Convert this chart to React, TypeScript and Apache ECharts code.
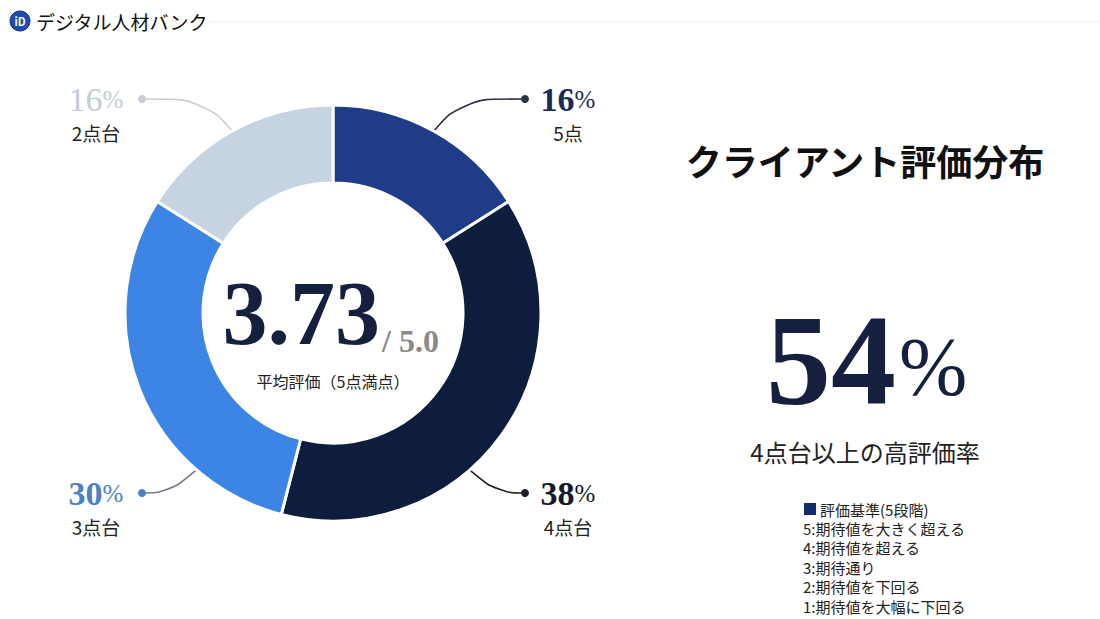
import React, { useEffect, useRef } from "react";
import * as echarts from "echarts";

const categories = ["5点", "4点台", "3点台", "2点台"];
const shares = [16, 38, 30, 16];
const sliceColors = ["#1f3c88", "#0e1c3d", "#3d85e4", "#c6d3e1"];
const pctColors = ["#1c2a57", "#131a2e", "#4b82c4", "#c4ccd8"];
const guideColors = ["#2a3248", "#1c1f2b", "#6f7b8d", "#c9ced6"];
const averageScore = "3.73";
const maxScore = "/ 5.0";
const averageCaption = "平均評価（5点満点）";
const chartTitle = "クライアント評価分布";
const highRatePct = "54";
const highRateCaption = "4点台以上の高評価率";
const criteriaHeader = "評価基準(5段階)";
const criteriaLines = [
  "5:期待値を大きく超える",
  "4:期待値を超える",
  "3:期待通り",
  "2:期待値を下回る",
  "1:期待値を大幅に下回る",
];
const brandName = "デジタル人材バンク";

const SANS = '"Noto Sans CJK JP", "Noto Sans", sans-serif';
const SERIF = '"Liberation Serif", "DejaVu Serif", serif';

// layout constants
const CX = 333;
const CY = 313;
const R_IN = 130;
const R_OUT = 208;
const anchorAngles = [29, 139, 221, 331];
const dotYTop = 99;
const dotYBottom = 493;
const dotXRight = 525;
const dotXLeft = 142;
const labelXRight = 568;
const labelXLeft = 96;

function guideGeom(i: number) {
  const right = i === 0 || i === 1;
  const top = i === 0 || i === 3;
  const a = (anchorAngles[i] * Math.PI) / 180;
  const ax = CX + R_OUT * Math.sin(a);
  const ay = CY - R_OUT * Math.cos(a);
  const dy = top ? dotYTop : dotYBottom;
  const dx = right ? dotXRight : dotXLeft;
  const ex = ax + (right ? 28 : -28);
  return { ax, ay, ex, dx, dy, lx: right ? labelXRight : labelXLeft };
}

export default function App() {
  const ref = useRef<HTMLDivElement>(null);
  useEffect(() => {
    document.body.style.margin = "0";
    const chart = echarts.init(ref.current!, null, { renderer: "svg" });
    const rich: any = {};
    categories.forEach((_, i) => {
      rich["pct" + i] = { fontFamily: SERIF, fontSize: 34, color: pctColors[i], lineHeight: 36, fontWeight: i === 3 ? "normal" : "bold" };
      rich["sign" + i] = { fontFamily: SERIF, fontSize: 25, color: pctColors[i], lineHeight: 36 };
    });
    rich.name = { fontFamily: SANS, fontSize: 19, color: "#222", lineHeight: 30 };

    const dots = categories.map((_, i) => {
      const g = guideGeom(i);
      return {
        type: "circle",
        shape: { cx: g.dx, cy: g.dy, r: 4 },
        style: { fill: i === 2 ? "#4b82c4" : guideColors[i] },
        z: 10,
      };
    });

    const legendTexts = criteriaLines.map((t, i) => ({
      type: "text",
      style: { text: t, x: 803, y: 528 + i * 19.5, fontFamily: SANS, fontSize: 15, lineHeight: 18, fill: "#222", verticalAlign: "middle" },
    }));

    chart.setOption({
      animation: false,
      backgroundColor: "#ffffff",
      series: [
        {
          type: "pie",
          center: [CX, CY],
          radius: [R_IN, R_OUT],
          startAngle: 90,
          clockwise: true,
          itemStyle: { borderColor: "#ffffff", borderWidth: 3 },
          emphasis: { disabled: true },
          label: {
            show: true,
            position: "outside",
            formatter: (p: any) => `{pct${p.dataIndex}|${p.value}}{sign${p.dataIndex}|%}\n{name|${p.name}}`,
            rich,
          },
          labelLine: { show: true, smooth: 0.45, length: 20, length2: 30, lineStyle: { width: 1.6 } },
          labelLayout: (params: any) => {
            const i = params.dataIndex;
            const g = guideGeom(i);
            return {
              x: g.lx,
              y: g.dy - 18,
              align: "center",
              verticalAlign: "top",
              labelLinePoints: [
                [g.ax, g.ay],
                [g.ex, g.dy],
                [g.dx, g.dy],
              ],
            };
          },
          data: categories.map((c, i) => ({
            name: c,
            value: shares[i],
            itemStyle: { color: sliceColors[i] },
            labelLine: { lineStyle: { color: guideColors[i], width: 1.6 } },
          })),
        },
      ],
      graphic: [
        // header
        {
          type: "circle",
          shape: { cx: 20, cy: 21, r: 10 },
          style: { fill: "#1f4fae", stroke: "#0d2f7a", lineWidth: 1 },
        },
        {
          type: "text",
          style: { text: "iD", x: 20, y: 21, align: "center", verticalAlign: "middle", fontFamily: SANS, fontWeight: "bold", fontSize: 11, fill: "#ffffff" },
        },
        {
          type: "text",
          style: { text: brandName, x: 36, y: 21, verticalAlign: "middle", fontFamily: SANS, fontSize: 19, fill: "#111" },
        },
        {
          type: "line",
          shape: { x1: 208, y1: 22, x2: 1100, y2: 22 },
          style: { stroke: "#ececec", lineWidth: 1 },
        },
        // center
        {
          type: "text",
          style: { text: averageScore, x: 380, y: 313, align: "right", verticalAlign: "middle", fontFamily: SERIF, fontWeight: "bold", fontSize: 90, lineHeight: 70, fill: "#15203f" },
        },
        {
          type: "text",
          style: { text: maxScore, x: 382, y: 341, align: "left", verticalAlign: "middle", fontFamily: SERIF, fontWeight: "bold", fontSize: 32, lineHeight: 28, fill: "#8a8a8a" },
        },
        {
          type: "text",
          style: { text: averageCaption, x: CX, y: 381, align: "center", verticalAlign: "middle", fontFamily: SANS, fontSize: 16, fill: "#222" },
        },
        // right side
        {
          type: "text",
          style: { text: chartTitle, x: 865, y: 160, align: "center", verticalAlign: "middle", fontFamily: SANS, fontWeight: "bold", fontSize: 36, fill: "#111" },
        },
        {
          type: "text",
          style: { text: highRatePct, x: 896, y: 360, align: "right", verticalAlign: "middle", fontFamily: SERIF, fontWeight: "bold", fontSize: 130, lineHeight: 100, fill: "#15203f" },
        },
        {
          type: "text",
          style: { text: "%", x: 899, y: 366, align: "left", verticalAlign: "middle", fontFamily: SERIF, fontSize: 82, lineHeight: 70, fill: "#15203f" },
        },
        {
          type: "text",
          style: { text: highRateCaption, x: 865, y: 451, align: "center", verticalAlign: "middle", fontFamily: SANS, fontSize: 24, lineHeight: 28, fill: "#222" },
        },
        // criteria
        {
          type: "rect",
          shape: { x: 804, y: 503, width: 12, height: 12 },
          style: { fill: "#12296a" },
        },
        {
          type: "text",
          style: { text: criteriaHeader, x: 820, y: 509, verticalAlign: "middle", fontFamily: SANS, fontSize: 15, lineHeight: 18, fill: "#222" },
        },
        ...legendTexts,
        ...dots,
      ],
    });
    return () => chart.dispose();
  }, []);
  return <div ref={ref} style={{ width: 1100, height: 619 }} />;
}
